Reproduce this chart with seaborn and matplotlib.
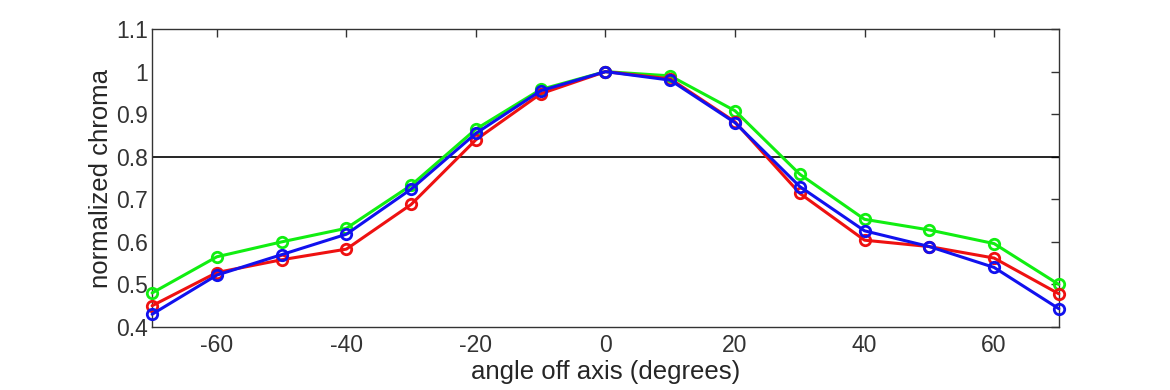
import matplotlib
matplotlib.use("Agg")
import matplotlib.pyplot as plt
import seaborn as sns
import pandas as pd

angles = [-70, -60, -50, -40, -30, -20, -10, 0, 10, 20, 30, 40, 50, 60, 70]
green = [0.48, 0.565, 0.60, 0.632, 0.733, 0.865, 0.958, 1.0, 0.99, 0.908, 0.759, 0.653, 0.628, 0.596, 0.50]
red = [0.45, 0.528, 0.558, 0.583, 0.688, 0.84, 0.948, 1.0, 0.983, 0.882, 0.714, 0.604, 0.589, 0.562, 0.478]
blue = [0.43, 0.522, 0.57, 0.618, 0.724, 0.855, 0.955, 1.0, 0.98, 0.88, 0.73, 0.626, 0.589, 0.540, 0.443]
series_names = ["green", "red", "blue"]
series_colors = {"green": "#11ee11", "red": "#ee1111", "blue": "#1111ee"}
xticks = [-60, -40, -20, 0, 20, 40, 60]
yticks = [0.4, 0.5, 0.6, 0.7, 0.8, 0.9, 1.0, 1.1]
ytick_labels = ["0.4", "0.5", "0.6", "0.7", "0.8", "0.9", "1", "1.1"]

rows = []
for name, vals in zip(series_names, [green, red, blue]):
    for a, v in zip(angles, vals):
        rows.append({"angle": a, "value": v, "series": name})
df = pd.DataFrame(rows)

sns.set_style("white")
plt.rcParams["font.family"] = ["Liberation Sans", "DejaVu Sans"]
plt.rcParams["axes.unicode_minus"] = False

fig = plt.figure(figsize=(11.7, 3.9), dpi=100)
ax = fig.add_axes([0.130, 0.1615, 0.775, 0.764])

ax.axhline(0.8, color="black", lw=1.2, zorder=1)
sns.lineplot(data=df, x="angle", y="value", hue="series", palette=series_colors,
             hue_order=series_names, marker="o", markersize=7.5, markerfacecolor="none",
             markeredgewidth=2, lw=2.2, legend=False, ax=ax, zorder=3)
for line, name in zip(ax.lines[1:], series_names):
    line.set_markeredgecolor(series_colors[name])
    line.set_clip_on(False)

ax.set_xlim(-70, 70)
ax.set_ylim(0.4, 1.1)
ax.set_xticks(xticks)
ax.set_xticklabels([str(t) for t in xticks])
ax.set_yticks(yticks)
ax.set_yticklabels(ytick_labels)
ax.tick_params(direction="in", length=6, width=1, top=True, right=True,
               labelsize=16.5, colors="#333333")
ax.tick_params(axis="x", pad=5)
ax.tick_params(axis="y", pad=3)
for s in ax.spines.values():
    s.set_color("#333333")
    s.set_linewidth(1)
ax.set_xlabel("angle off axis (degrees)", fontsize=18.5, color="#262626", labelpad=2)
ax.set_ylabel("normalized chroma", fontsize=18.5, color="#262626", labelpad=2)

fig.savefig("out.png", dpi=100, facecolor="white")
